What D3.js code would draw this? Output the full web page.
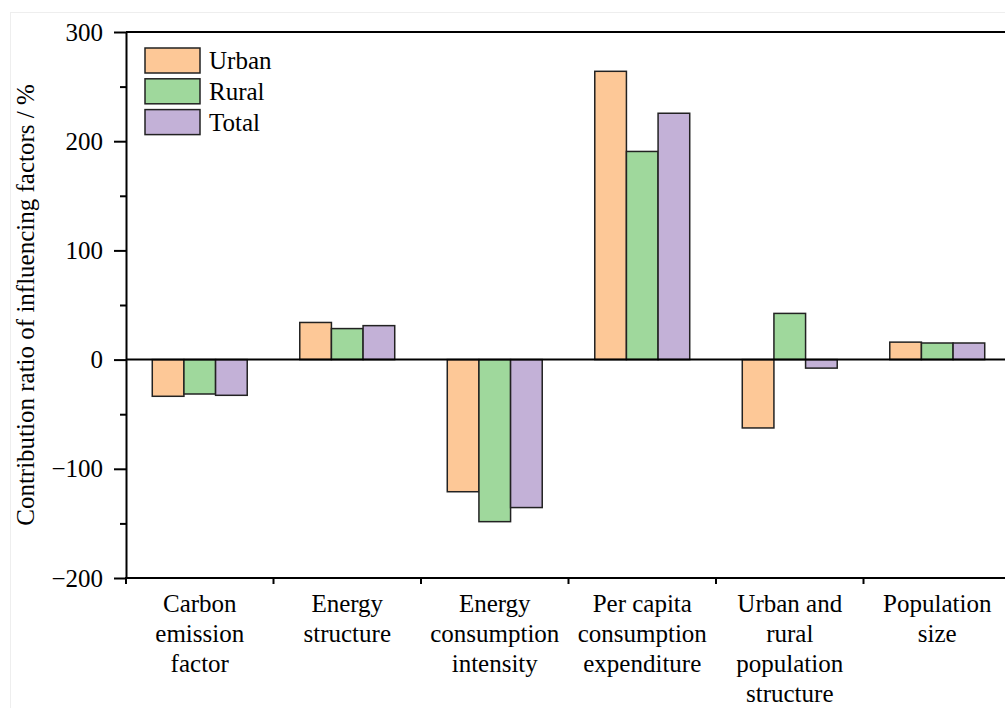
<!DOCTYPE html>
<html>
<head>
<meta charset="utf-8">
<script src="https://cdn.jsdelivr.net/npm/d3@7"></script>
<style>
  body { margin: 0; background: #fff; }
</style>
</head>
<body>
<div id="chart"></div>
<script>
"use strict";

// categories and series
var categories = [
  ["Carbon", "emission", "factor"],
  ["Energy", "structure"],
  ["Energy", "consumption", "intensity"],
  ["Per capita", "consumption", "expenditure"],
  ["Urban and", "rural", "population", "structure"],
  ["Population", "size"]
];
var series = ["Urban", "Rural", "Total"];
var urban = [-33.6, 34, -121, 264, -62.6, 16];
var rural = [-31.5, 28.4, -148.4, 190.6, 42.3, 15.2];
var total = [-32.7, 31.1, -135.5, 225.6, -7.8, 15.2];
var colors = ["#fdc897", "#9fd89c", "#c3b1d7"];
var yTicks = [-200, -100, 0, 100, 200, 300];
var yMinor = [-150, -50, 50, 150, 250];

var FONT = "'Liberation Serif', 'Times New Roman', Times, 'DejaVu Serif', serif";
var FS = 25;
var W = 1005, H = 708;
var margin = {left: 126, top: 32, right: -6, bottom: 130};

var svg = d3.select("#chart").append("svg")
  .attr("width", W).attr("height", H)
  .style("display", "block");

// faint outer frame
svg.append("rect")
  .attr("x", 10.5).attr("y", 12.5)
  .attr("width", W).attr("height", H)
  .attr("fill", "none").attr("stroke", "#eeeeee");

var keys = categories.map(function (c, i) { return "c" + i; });

var x0 = d3.scaleBand().domain(keys)
  .range([margin.left, W - margin.right]).padding(0);
var x1 = d3.scaleBand().domain(series)
  .range([0, x0.bandwidth()]).paddingInner(0).paddingOuter(0.83);
var y = d3.scaleLinear().domain([-200, 300])
  .range([H - margin.bottom, margin.top]);

var values = [urban, rural, total];
var rows = [];
keys.forEach(function (k, i) {
  series.forEach(function (s, j) {
    rows.push({key: k, series: s, value: values[j][i], color: colors[j]});
  });
});

// bars
svg.append("g").selectAll("rect").data(rows).enter().append("rect")
  .attr("x", function (d) { return x0(d.key) + x1(d.series); })
  .attr("y", function (d) { return y(Math.max(0, d.value)); })
  .attr("width", x1.bandwidth())
  .attr("height", function (d) { return Math.abs(y(d.value) - y(0)); })
  .attr("fill", function (d) { return d.color; })
  .attr("stroke", "#222").attr("stroke-width", 1.5);

// zero line
svg.append("line")
  .attr("x1", margin.left).attr("x2", W)
  .attr("y1", y(0)).attr("y2", y(0))
  .attr("stroke", "#000").attr("stroke-width", 2);

// top frame line
svg.append("line")
  .attr("x1", margin.left).attr("x2", W)
  .attr("y1", margin.top).attr("y2", margin.top)
  .attr("stroke", "#000").attr("stroke-width", 2);

// y axis
var yAxis = svg.append("g")
  .attr("transform", "translate(" + margin.left + ",0)")
  .call(d3.axisLeft(y).tickValues(yTicks).tickSize(12).tickPadding(11).tickSizeOuter(0));
svg.append("g")
  .attr("transform", "translate(" + margin.left + ",0)")
  .call(d3.axisLeft(y).tickValues(yMinor).tickSize(6).tickFormat("").tickSizeOuter(0))
  .select(".domain").remove();

yAxis.selectAll(".domain").attr("stroke", "#000").attr("stroke-width", 2);
yAxis.selectAll("text").attr("font-size", FS).attr("fill", "#000")
  .style("font-family", FONT);
svg.selectAll(".tick line").attr("stroke", "#000").attr("stroke-width", 2);

// x axis
var base = y(-200);
svg.append("line")
  .attr("x1", margin.left - 1).attr("x2", W)
  .attr("y1", base).attr("y2", base)
  .attr("stroke", "#000").attr("stroke-width", 2);

var bounds = keys.map(function (k) { return x0(k); }).concat([x0.range()[1]]);
svg.append("g").selectAll("line").data(bounds).enter().append("line")
  .attr("x1", function (d) { return d; }).attr("x2", function (d) { return d; })
  .attr("y1", base).attr("y2", base + 6)
  .attr("stroke", "#000").attr("stroke-width", 2);

var labels = svg.append("g").selectAll("text").data(categories).enter().append("text")
  .attr("text-anchor", "middle")
  .attr("font-size", FS)
  .attr("fill", "#000")
  .style("font-family", FONT)
  .attr("transform", function (d, i) {
    return "translate(" + (x0(keys[i]) + x0.bandwidth() / 2) + "," + (base + 34) + ")";
  });
labels.selectAll("tspan").data(function (d) { return d; }).enter().append("tspan")
  .attr("x", 0)
  .attr("y", function (d, i) { return i * 30; })
  .text(function (d) { return d; });

// y title
svg.append("text")
  .attr("transform", "translate(34," + 305 + ") rotate(-90)")
  .attr("text-anchor", "middle")
  .attr("font-size", FS)
  .attr("fill", "#000")
  .style("font-family", FONT)
  .text("Contribution ratio of influencing factors / %");

// legend
var legend = svg.append("g").attr("transform", "translate(145,48)");
var item = legend.selectAll("g").data(series).enter().append("g")
  .attr("transform", function (d, i) { return "translate(0," + i * 30.8 + ")"; });
item.append("rect")
  .attr("width", 55).attr("height", 25)
  .attr("fill", function (d, i) { return colors[i]; })
  .attr("stroke", "#222").attr("stroke-width", 1.5);
item.append("text")
  .attr("x", 64).attr("y", 21)
  .attr("font-size", FS).attr("fill", "#000")
  .style("font-family", FONT)
  .text(function (d) { return d; });
</script>
</body>
</html>
